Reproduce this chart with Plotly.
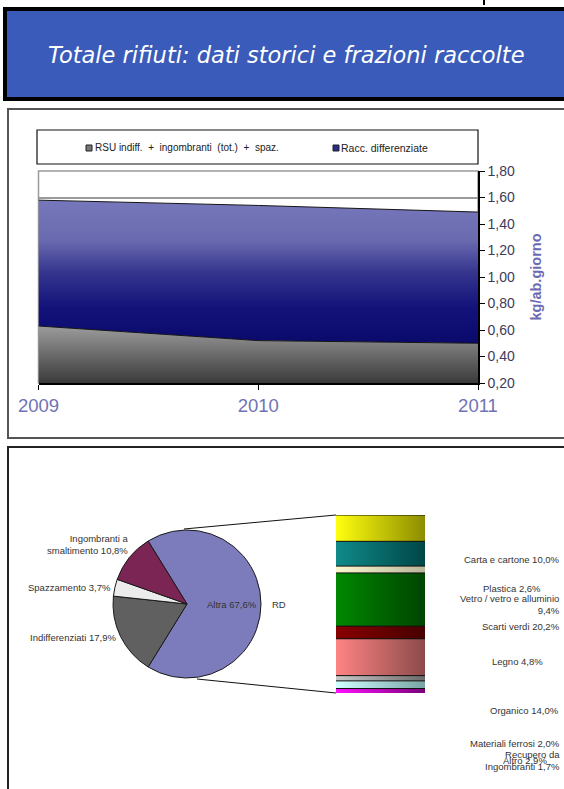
import plotly.graph_objects as go

W, H = 564, 789


def px(x):
    return x / W


def py(y):
    return 1 - y / H


def pct(v):
    return f"{v:.1f}".replace(".", ",") + "%"


# ---- historical series (kg/ab.giorno) ----
years = [2009, 2010, 2011]
rsu = [0.63, 0.52, 0.50]
rd = [0.95, 1.02, 0.99]
series_names = ["RSU indiff.  +  ingombranti  (tot.)  +  spaz.", "Racc. differenziate"]
y_ticks = [0.2, 0.4, 0.6, 0.8, 1.0, 1.2, 1.4, 1.6, 1.8]

# ---- composition of collected waste (%) ----
pie_labels = ["Altra", "Indifferenziati", "Spazzamento", "Ingombranti a<br>smaltimento"]
pie_values = [67.6, 17.9, 3.7, 10.8]
pie_colors = ["#7c7cbd", "#606060", "#ececec", "#7a2553"]

# ---- breakdown of separate collection (%), top to bottom ----
rd_labels = ["Carta e cartone", "Vetro / vetro e alluminio<br>", "Plastica", "Scarti verdi",
             "Legno", "Organico", "Materiali ferrosi", "Altro", "Recupero da<br>Ingombranti"]
rd_values = [10.0, 9.4, 2.6, 20.2, 4.8, 14.0, 2.0, 2.9, 1.7]
rd_colors = [("#ffff10", "#8c8c00"), ("#108a8a", "#004646"), ("#fbf8d0", "#b8b59a"),
             ("#008800", "#004400"), ("#880000", "#480000"), ("#ff8484", "#8c4a4a"),
             ("#c8c8c8", "#6c6c6c"), ("#d0ffff", "#78a4a4"), ("#ff10ff", "#7a007a")]
# label anchor (x, y, xanchor) on the page
rd_label_pos = [(562, 559, "right"), (562, 604, "right"), (512, 588, "center"),
                (562, 626, "right"), (517, 661, "center"), (561, 710, "right"),
                (562, 743, "right"), (525, 760, "center"), (562, 760, "right")]

FONT = "Liberation Sans, Arial, sans-serif"
LABEL = dict(family=FONT, size=9.5, color="#333333")

fig = go.Figure()

# stacked areas
totals = [a + b for a, b in zip(rsu, rd)]
fig.add_trace(go.Scatter(
    x=years, y=rsu, stackgroup="hist", mode="lines", name=series_names[0],
    line=dict(color="#151515", width=1),
    fillgradient=dict(type="vertical", start=y_ticks[0], stop=max(rsu),
                      colorscale=[[0, "#3a3a3a"], [1, "#9c9c9c"]]),
    showlegend=False, hoverinfo="skip", xaxis="x", yaxis="y"))
fig.add_trace(go.Scatter(
    x=years, y=rd, stackgroup="hist", mode="lines", name=series_names[1],
    line=dict(color="#151515", width=1),
    fillgradient=dict(type="vertical", start=min(rsu), stop=max(totals),
                      colorscale=[[0, "#0a0a6c"], [0.25, "#12127a"], [0.5, "#36368f"],
                                  [0.72, "#6a6ab0"], [1, "#7777bb"]]),
    showlegend=False, hoverinfo="skip", xaxis="x", yaxis="y"))

# pie
fig.add_trace(go.Pie(
    values=pie_values, labels=pie_labels, sort=False, direction="clockwise",
    rotation=90 - 180 * pie_values[0] / sum(pie_values),
    textinfo="none", hoverinfo="skip", showlegend=False,
    marker=dict(colors=pie_colors, line=dict(color="#1a1a1a", width=1)),
    domain=dict(x=[px(113), px(261)], y=[py(678), py(530)])))

# stacked breakdown column (gradient fills + outlines)
for lab, val, (c0, c1) in reversed(list(zip(rd_labels, rd_values, rd_colors))):
    fig.add_trace(go.Scatter(
        x=[0, 1], y=[val, val], stackgroup="rd", mode="lines",
        line=dict(color="#111111", width=1),
        fillgradient=dict(type="horizontal", start=0, stop=1,
                          colorscale=[[0, c0], [1, c1]]),
        showlegend=False, hoverinfo="skip", xaxis="x2", yaxis="y2"))
for val in reversed(rd_values):
    fig.add_trace(go.Bar(
        x=[0.5], y=[val], width=1, marker=dict(color="rgba(0,0,0,0)",
                                               line=dict(color="#111111", width=1)),
        showlegend=False, hoverinfo="skip", xaxis="x2", yaxis="y2"))

shapes = [
    # heading banner
    dict(type="rect", xref="paper", yref="paper", x0=px(5), x1=px(575), y0=py(9), y1=py(99),
         fillcolor="#3a5bb9", line=dict(color="#000000", width=4), layer="below"),
    dict(type="line", xref="paper", yref="paper", x0=px(484), x1=px(484), y0=py(0), y1=py(5),
         line=dict(color="#000000", width=2)),
    # panels
    dict(type="rect", xref="paper", yref="paper", x0=px(8), x1=px(580), y0=py(109), y1=py(438),
         line=dict(color="#555555", width=2), layer="below"),
    dict(type="rect", xref="paper", yref="paper", x0=px(8), x1=px(580), y0=py(447), y1=py(800),
         line=dict(color="#222222", width=2), layer="below"),
    # legend box
    dict(type="rect", xref="paper", yref="paper", x0=px(37), x1=px(478), y0=py(130), y1=py(164),
         line=dict(color="#111111", width=1.2)),
    dict(type="rect", xref="paper", yref="paper", x0=px(86), x1=px(92), y0=py(145), y1=py(151),
         fillcolor="#777777", line=dict(color="#222222", width=1)),
    dict(type="rect", xref="paper", yref="paper", x0=px(333), x1=px(339), y0=py(145), y1=py(151),
         fillcolor="#2a2a88", line=dict(color="#222222", width=1)),
    # plot frame
    dict(type="rect", xref="x domain", yref="y domain", x0=0, x1=1, y0=0, y1=1,
         line=dict(color="#9a9a9a", width=1.5), layer="below"),
    # connectors pie -> column
    dict(type="line", xref="paper", yref="paper", x0=px(184), y0=py(529), x1=px(336), y1=py(515),
         line=dict(color="#111111", width=1)),
    dict(type="line", xref="paper", yref="paper", x0=px(197), y0=py(679), x1=px(336), y1=py(693),
         line=dict(color="#111111", width=1)),
]

annotations = [
    dict(text="<i>Totale rifiuti: dati storici e frazioni raccolte</i>", x=px(286), y=py(55),
         xref="paper", yref="paper", xanchor="center", yanchor="middle", showarrow=False,
         font=dict(family="DejaVu Sans", size=22.5, color="#ffffff")),
    dict(text=series_names[0], x=px(93), y=py(148), xref="paper", yref="paper", xanchor="left",
         yanchor="middle", showarrow=False, font=dict(family=FONT, size=10, color="#222222")),
    dict(text=series_names[1], x=px(339), y=py(148), xref="paper", yref="paper", xanchor="left",
         yanchor="middle", showarrow=False, font=dict(family=FONT, size=10.5, color="#222222")),
]

# pie labels
pie_label_pos = [(232, 604, "center"), (118, 637, "right"), (113, 587, "right"), (131, 544, "right")]
for lab, val, (x, y, anc) in zip(pie_labels, pie_values, pie_label_pos):
    annotations.append(dict(text=f"{lab} {pct(val)}", x=px(x), y=py(y), xref="paper", yref="paper",
                            xanchor=anc, yanchor="middle", align="right", showarrow=False,
                            font=LABEL))
annotations.append(dict(text="RD", x=px(270), y=py(604), xref="paper", yref="paper", xanchor="left",
                        yanchor="middle", showarrow=False, font=LABEL))

for lab, val, (x, y, anc) in zip(rd_labels, rd_values, rd_label_pos):
    sep = "" if lab.endswith("<br>") else " "
    annotations.append(dict(text=f"{lab}{sep}{pct(val)}", x=px(x), y=py(y), xref="paper",
                            yref="paper", xanchor=anc, yanchor="middle",
                            align="right" if anc == "right" else "center",
                            showarrow=False, font=LABEL))

fig.update_layout(
    template="none", autosize=False,
    width=W, height=H, margin=dict(l=0, r=0, t=0, b=0, pad=0),
    paper_bgcolor="#ffffff", plot_bgcolor="#ffffff",
    separators=",.", barmode="stack", showlegend=False,
    font=dict(family=FONT),
    xaxis=dict(domain=[px(38.5), px(478)], range=[years[0], years[-1]], automargin=False,
               tickvals=years, ticktext=[str(y) for y in years],
               ticks="outside", ticklen=5, tickcolor="#000000",
               showline=True, linecolor="#000000", linewidth=1.5,
               showgrid=False, zeroline=False,
               tickfont=dict(size=18.5, color="#6f73b5", family=FONT)),
    yaxis=dict(domain=[py(383), py(171)], range=[y_ticks[0], y_ticks[-1]], side="right",
               automargin=False,
               tickvals=y_ticks, tickformat=".2f", ticks="outside", ticklen=5,
               tickcolor="#000000", showline=True, linecolor="#000000", linewidth=1.5,
               showgrid=True, gridcolor="#9a9a9a", gridwidth=1.5, zeroline=False,
               tickfont=dict(size=14, color="#3c3c5a", family=FONT),
               title=dict(text="<b>kg/ab.giorno</b>", standoff=17,
                          font=dict(size=14.5, color="#6b6bb3", family=FONT))),
    xaxis2=dict(domain=[px(336), px(425)], range=[0, 1], visible=False, anchor="y2",
                automargin=False),
    yaxis2=dict(domain=[py(693), py(515)], range=[0, sum(rd_values)], visible=False, anchor="x2",
                automargin=False),
    shapes=shapes, annotations=annotations,
)

fig.write_html("out.html")
